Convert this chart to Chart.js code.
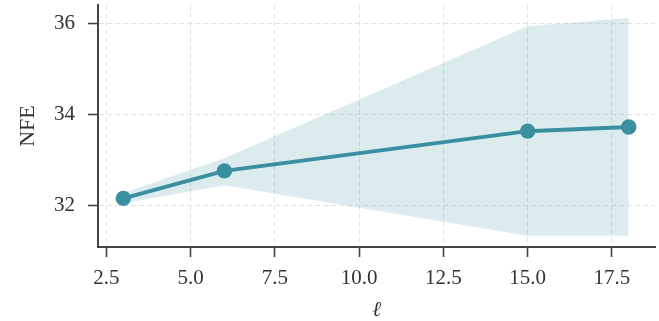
<!DOCTYPE html>
<html><head><meta charset="utf-8">
<script src="https://cdn.jsdelivr.net/npm/chart.js@4"></script>
<style>html,body{margin:0;padding:0;background:#fff}#w{width:659px;height:321px}</style>
</head><body><div id="w"><canvas id="c"></canvas></div>
<script>
const ells = [3, 6, 15, 18];
const nfeMean = [32.16, 32.765, 33.64, 33.73];
const nfeUpper = [32.28, 33.04, 35.95, 36.13];
const nfeLower = [32.05, 32.45, 31.335, 31.335];
const xTicks = [2.5, 5.0, 7.5, 10.0, 12.5, 15.0, 17.5];
const yTicks = [32, 34, 36];

const teal = '#3a8fa0';
const pts = (ys) => ells.map((x, i) => ({x, y: ys[i]}));
const tickFont = {family: '"Liberation Serif", "Times New Roman", serif', size: 21};

new Chart(document.getElementById('c'), {
  type: 'line',
  data: {
    datasets: [
      {data: pts(nfeMean), borderColor: teal, backgroundColor: teal, borderWidth: 4,
       pointRadius: 7.7, pointHoverRadius: 7.7, pointBorderWidth: 0, fill: false, tension: 0},
      {data: pts(nfeUpper), borderWidth: 0, pointRadius: 0, fill: '+1',
       backgroundColor: 'rgba(58,143,160,0.18)', tension: 0},
      {data: pts(nfeLower), borderWidth: 0, pointRadius: 0, fill: false, tension: 0}
    ]
  },
  options: {
    responsive: true, maintainAspectRatio: false, animation: false,
    layout: {autoPadding: false, padding: {top: 5, right: 4, left: 0, bottom: 0}},
    plugins: {legend: {display: false}, tooltip: {enabled: false}},
    scales: {
      x: {
        type: 'linear', min: 2.249, max: 18.78,
        afterFit: (s) => { s.height = 74; s.paddingLeft = 0; s.paddingRight = 0; },
        afterBuildTicks: (s) => { s.ticks = xTicks.map(v => ({value: v})); },
        ticks: {includeBounds: false, stepSize: 2.5, color: '#333', font: tickFont, padding: 9,
                maxRotation: 0, callback: (v) => Number(v).toFixed(1)},
        grid: {color: '#e3e3e3', lineWidth: 1, tickLength: 10, tickColor: '#444', tickWidth: 1.6, tickBorderDash: []},
        border: {color: '#444', width: 2, dash: [5, 3]},
        title: {display: true, text: 'ℓ', color: '#333',
                font: {family: '"DejaVu Serif", serif', style: 'italic', size: 21, lineHeight: 1},
                padding: {top: 0, bottom: 0}}
      },
      y: {
        type: 'linear', min: 31.088, max: 36.418,
        afterFit: (s) => { s.width = 98; s.paddingTop = 0; s.paddingBottom = 0; },
        afterBuildTicks: (s) => { s.ticks = yTicks.map(v => ({value: v})); },
        ticks: {includeBounds: false, stepSize: 2, color: '#333', font: tickFont, padding: 13,
                callback: (v) => String(v)},
        grid: {color: '#e3e3e3', lineWidth: 1, tickLength: 10, tickColor: '#444', tickWidth: 1.6, tickBorderDash: []},
        border: {color: '#444', width: 2, dash: [5, 3]},
        title: {display: true, text: 'NFE', color: '#333',
                font: {family: '"Liberation Serif", serif', size: 22, lineHeight: 1},
                padding: {top: 17, bottom: 0}}
      }
    }
  }
});
</script></body></html>
